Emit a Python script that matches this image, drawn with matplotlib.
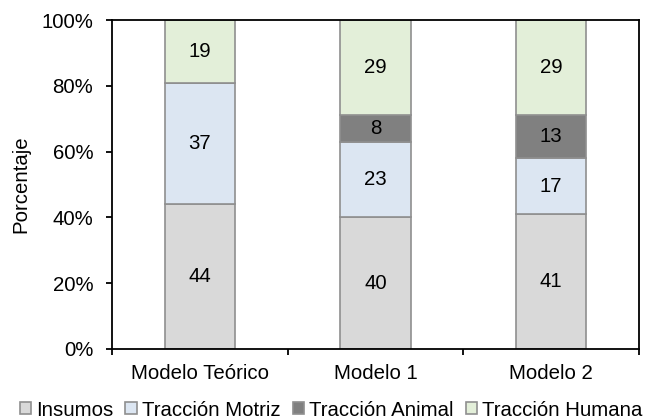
import numpy as np
import matplotlib.pyplot as plt

plt.rcParams['font.family'] = ['Liberation Sans', 'DejaVu Sans']

modelos = ['Modelo Teórico', 'Modelo 1', 'Modelo 2']
series = ['Insumos', 'Tracción Motriz', 'Tracción Animal', 'Tracción Humana']
insumos = [44, 40, 41]
motriz = [37, 23, 17]
animal = [0, 8, 13]
humana = [19, 29, 29]
colores = ['#d9d9d9', '#dce6f2', '#808080', '#e3efd9']

valores = [insumos, motriz, animal, humana]
fs = 14.7

fig = plt.figure(figsize=(6.47, 4.2), dpi=100)
ax = fig.add_axes([112 / 647, 1 - 349 / 420, (639 - 112) / 647, (349 - 20) / 420])

x = np.arange(len(modelos))
base = np.zeros(len(modelos))
for nombre, vals, col in zip(series, valores, colores):
    vals = np.array(vals, dtype=float)
    ax.bar(x, vals, 0.4, bottom=base, color=col, edgecolor='#8f8f8f',
           linewidth=1.2, label=nombre)
    for xi, b, v in zip(x, base, vals):
        if v > 0:
            ax.text(xi, b + v / 2, f'{v:.0f}', ha='center', va='center',
                    fontsize=fs, color='black')
    base += vals

ax.set_xlim(-0.5, 2.5)
ax.set_ylim(0, 100)
ax.set_yticks(np.arange(0, 101, 20))
ax.set_yticklabels([f'{v}%' for v in range(0, 101, 20)], fontsize=fs)
ax.set_xticks(x)
ax.set_xticklabels(modelos, fontsize=fs)
ax.set_xticks([-0.5, 0.5, 1.5, 2.5], minor=True)
ax.tick_params(axis='x', which='major', length=0, pad=11)
ax.tick_params(axis='x', which='minor', length=4.5, width=1.3, direction='out')
ax.tick_params(axis='y', length=4.5, width=1.3, direction='out', pad=9)
ax.set_ylabel('Porcentaje', fontsize=fs)
ax.yaxis.set_label_coords(-0.155, 0.5)

for s in ax.spines.values():
    s.set_linewidth(1.3)
    s.set_color('black')

leg = fig.legend(loc='center', bbox_to_anchor=(331 / 647, 1 - 410 / 420), ncol=4,
                 frameon=False, fontsize=fs, handlelength=0.55,
                 handleheight=0.55, handletextpad=0.25, columnspacing=0.6,
                 borderpad=0, borderaxespad=0)

fig.savefig('out.png', dpi=100)
